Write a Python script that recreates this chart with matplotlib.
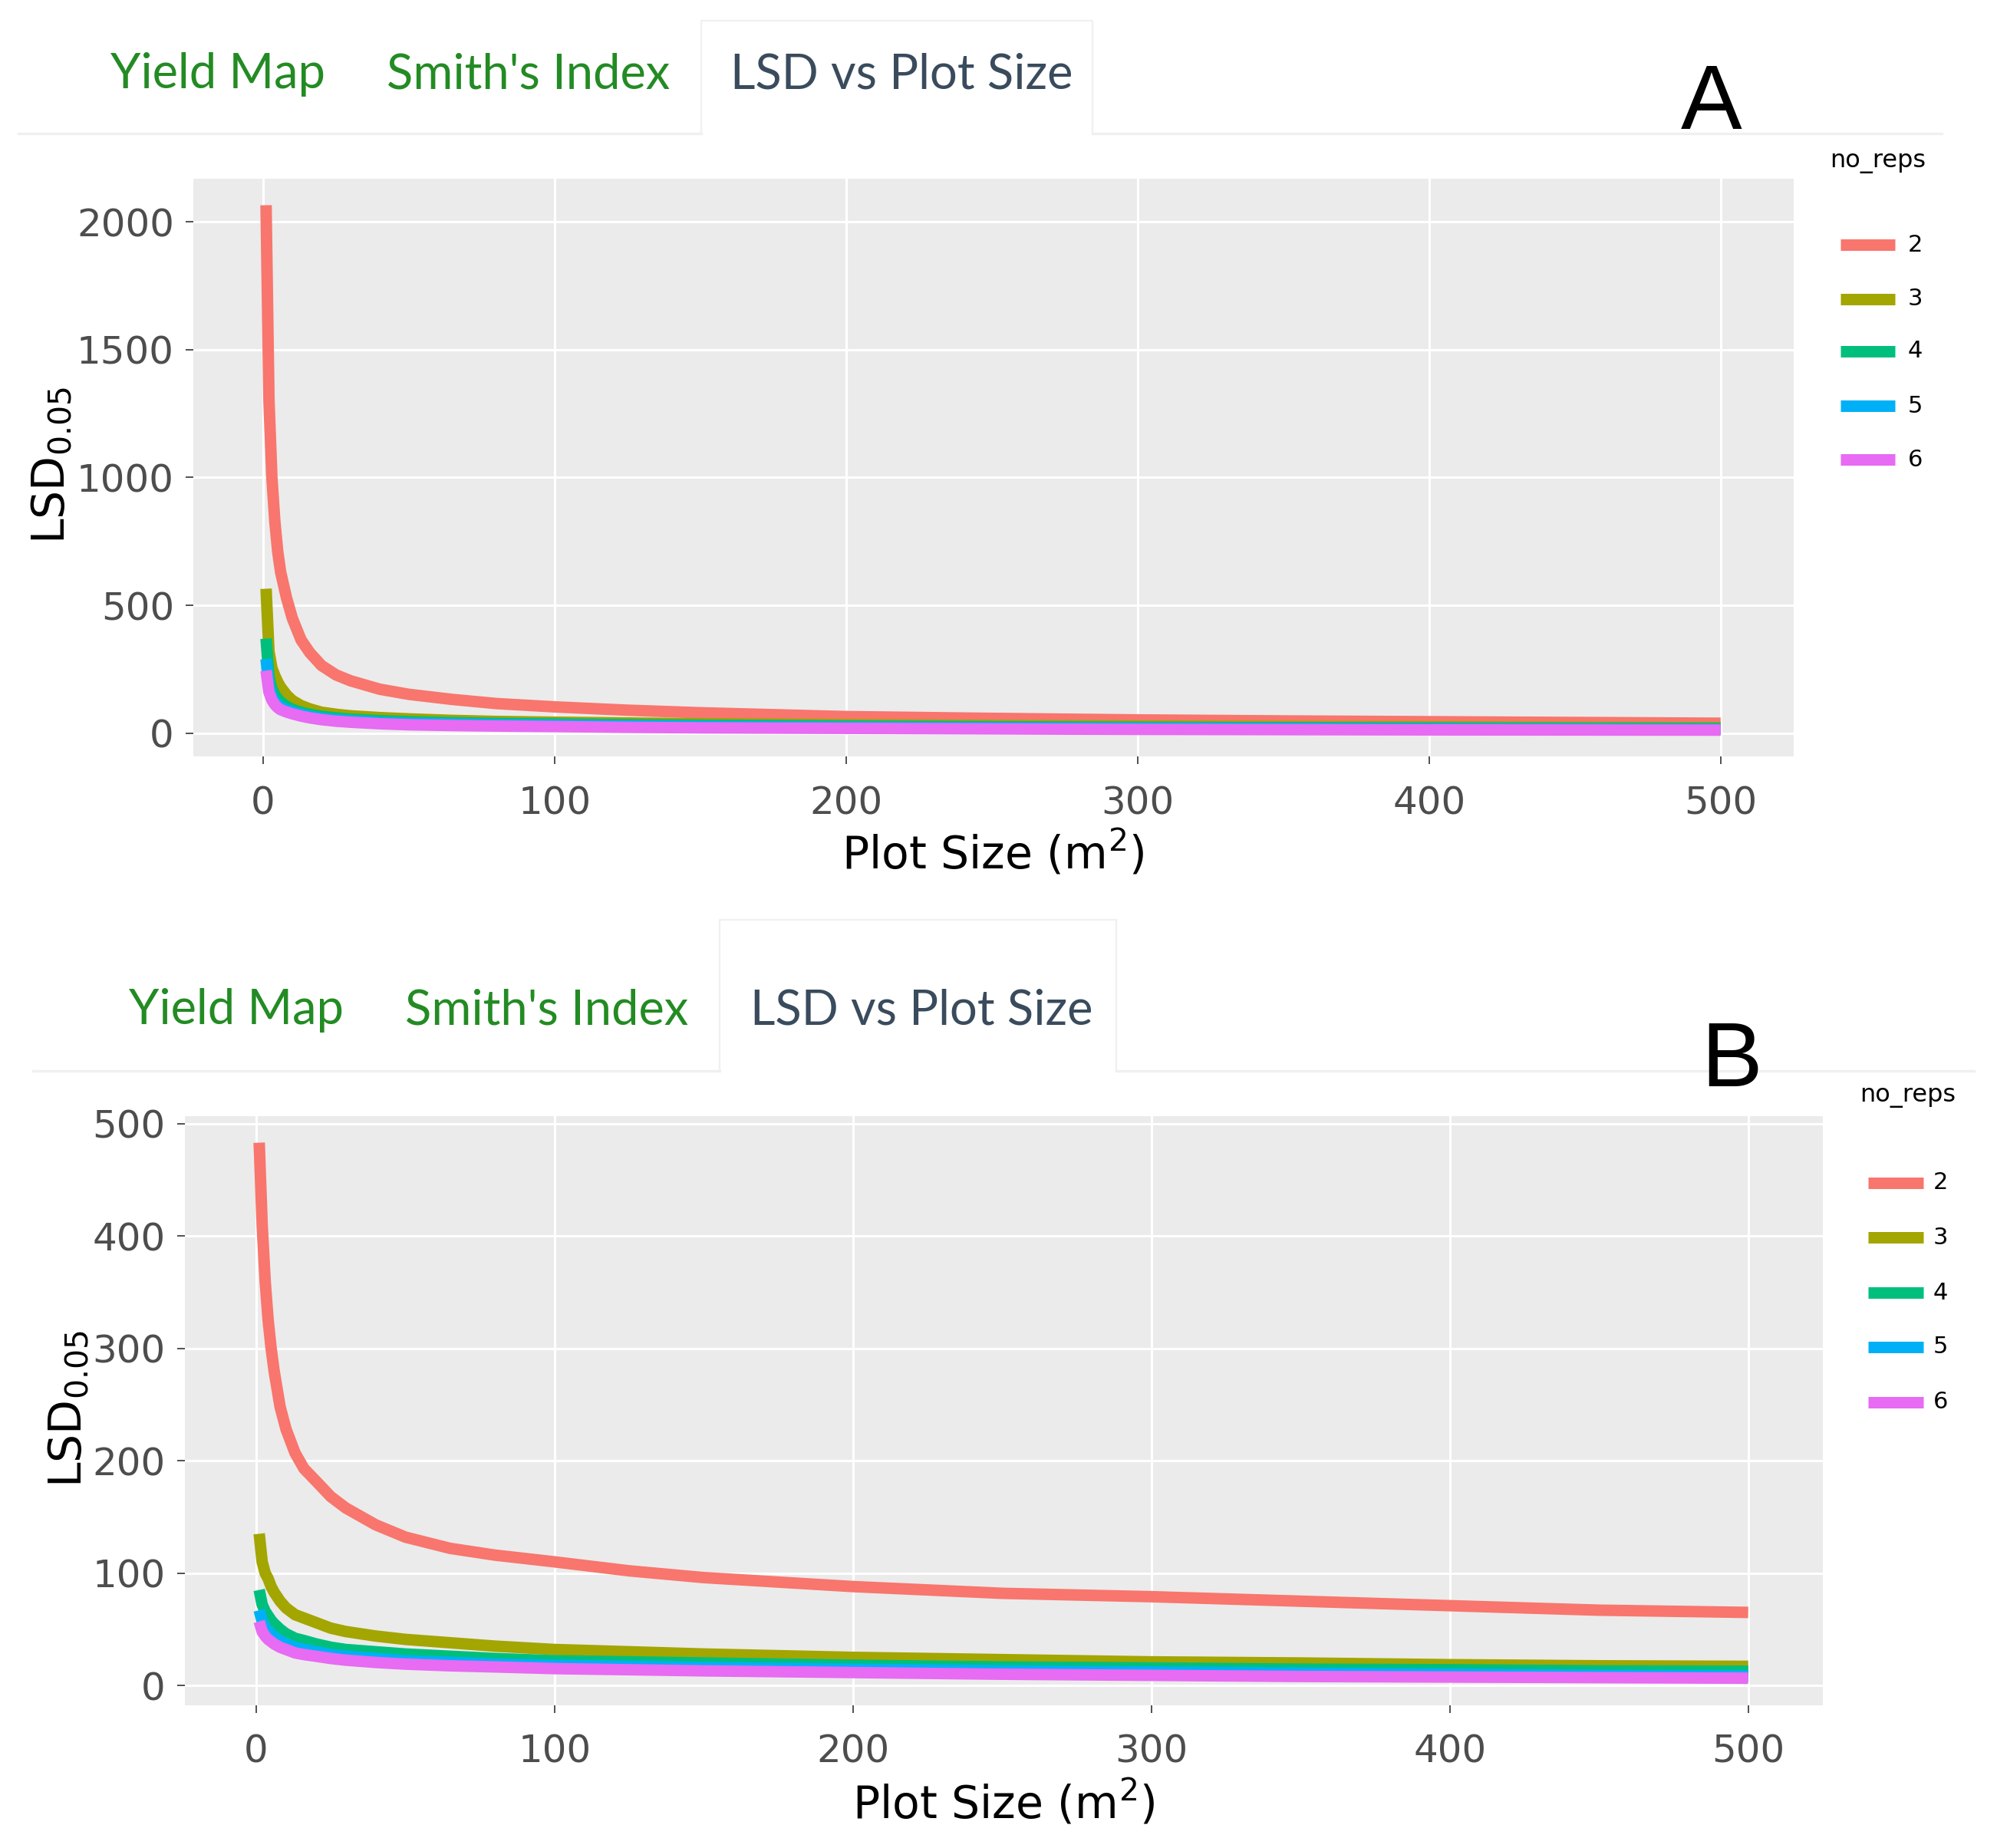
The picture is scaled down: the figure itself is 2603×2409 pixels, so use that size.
import matplotlib
matplotlib.use("Agg")
import matplotlib.pyplot as plt
from matplotlib.lines import Line2D

# ---------------- data ----------------
plot_size = [1, 2, 3, 4, 5, 6, 8, 10, 13, 16, 20, 25, 30, 40, 50, 65, 80,
             100, 125, 150, 200, 250, 300, 350, 400, 450, 500]
reps = ["2", "3", "4", "5", "6"]

# Panel A
a_r2 = [2065, 1300, 1000, 830, 710, 630, 530, 450, 365, 315, 265, 228, 205, 172, 152, 132, 116,
        103, 90, 80, 65, 58, 52, 48, 45, 42, 39]
a_r3 = [565, 320, 255, 225, 200, 180, 150, 128, 108, 95, 82, 74, 68, 61, 56, 50, 46,
        43, 40, 37, 33, 30, 28, 26, 25, 23, 22]
a_r4 = [370, 220, 175, 150, 135, 122, 105, 93, 82, 74, 66, 60, 55, 49, 45, 41, 38,
        36, 33, 31, 28, 25, 23, 21.5, 20, 19, 18]
a_r5 = [290, 180, 145, 125, 112, 103, 92, 84, 74, 66, 58, 52, 48, 42, 38, 35, 33,
        31, 28, 26, 23, 21, 19, 18, 17, 16, 15]
a_r6 = [245, 160, 130, 112, 100, 92, 83, 76, 67, 60, 53, 47, 43, 37, 33, 30, 28,
        26, 23, 21, 19, 17, 15, 14, 13, 12.5, 12]

# Panel B
b_r2 = [483, 410, 360, 325, 300, 280, 248, 228, 207, 193, 182, 168, 158, 143, 132, 122, 116,
        110, 102, 96, 88, 82, 79, 75, 71, 67, 65]
b_r3 = [135, 110, 100, 95, 88, 83, 75, 69, 63, 60, 56, 51, 48, 44, 41, 38, 35,
        32, 30, 28, 25, 23, 21, 20, 18.5, 17.5, 17]
b_r4 = [85, 72, 66, 62, 58, 55, 50, 46, 42, 40, 37, 34, 32, 30, 28, 26, 24,
        22, 21, 20, 18, 16.5, 15.5, 14.5, 14, 13, 12.7]
b_r5 = [67, 57, 52, 48, 46, 43, 40, 37, 34, 32, 30, 27.5, 26, 24, 22, 20.5, 19,
        18, 17, 16, 14.5, 13, 12, 11, 10, 9, 8.5]
b_r6 = [57, 48, 44, 41, 39, 37, 34, 32, 29, 27.5, 26, 24, 22.5, 20.5, 19, 17.5, 16.5,
        15, 14, 13, 11.5, 10, 9, 8, 7.5, 7, 6.5]

x_ticks = [0, 100, 200, 300, 400, 500]
y_ticks_a = [0, 500, 1000, 1500, 2000]
y_ticks_b = [0, 100, 200, 300, 400, 500]
tab_labels = ["Yield Map", "Smith's Index", "LSD vs Plot Size"]
panel_letters = ["A", "B"]
legend_title = "no_reps"

colors = ["#F8766D", "#A3A500", "#00BF7D", "#00B0F6", "#E76BF3"]

# ---------------- layout helpers ----------------
W, H = 2603, 2409
DPI = 100
fig = plt.figure(figsize=(W / DPI, H / DPI), dpi=DPI, facecolor="white")


def fx(x):
    return x / W


def fy(y):
    return 1 - y / H


def px_axes(left, top, right, bottom):
    return [fx(left), fy(bottom), (right - left) / W, (bottom - top) / H]


LINE_W = 15 * 72 / DPI
GRID_W = 3 * 72 / DPI
TAB_GREEN = "#238B23"
TAB_ACTIVE = "#394B5C"
TAB_BORDER = "#F0F0F0"


def draw_tabs(left_xs, baseline, box, line_y, line_extent):
    for lab, x0, col in zip(tab_labels, left_xs, [TAB_GREEN, TAB_GREEN, TAB_ACTIVE]):
        fig.text(fx(x0), fy(baseline), lab, fontsize=45.5, family="Lato",
                 color=col, ha="left", va="baseline")
    bl, bt, br = box
    fig.add_artist(Line2D([fx(bl), fx(bl), fx(br), fx(br)],
                          [fy(line_y), fy(bt), fy(bt), fy(line_y)],
                          transform=fig.transFigure, color=TAB_BORDER, lw=1.6))
    fig.add_artist(Line2D([fx(line_extent[0]), fx(bl)], [fy(line_y), fy(line_y)],
                          transform=fig.transFigure, color=TAB_BORDER, lw=2.4))
    fig.add_artist(Line2D([fx(br), fx(line_extent[1])], [fy(line_y), fy(line_y)],
                          transform=fig.transFigure, color=TAB_BORDER, lw=2.4))


def draw_legend(title_xy, key_x0, key_x1, label_x, ys):
    fig.text(fx(title_xy[0]), fy(title_xy[1]), legend_title, fontsize=23,
             color="black", ha="left", va="center")
    for col, r, y in zip(colors, reps, ys):
        fig.add_artist(Line2D([fx(key_x0), fx(key_x1)], [fy(y), fy(y)],
                              transform=fig.transFigure, color=col, lw=LINE_W,
                              solid_capstyle="butt"))
        fig.text(fx(label_x), fy(y), r, fontsize=22, color="black",
                 ha="left", va="center")


def style_axes(ax, yticks):
    ax.set_facecolor("#EBEBEB")
    for s in ax.spines.values():
        s.set_visible(False)
    ax.set_axisbelow(True)
    ax.grid(True, color="white", linewidth=GRID_W)
    ax.set_xticks(x_ticks)
    ax.set_yticks(yticks)
    ax.tick_params(axis="both", labelsize=36, labelcolor="#4D4D4D",
                   color="#333333", length=7, width=1.2)
    ax.tick_params(axis="y", pad=11)
    ax.tick_params(axis="x", pad=20)
    ax.margins(x=0.05, y=0.05)


def panel(ax, series, yticks, ylab_xy, xlab_y):
    for vals, col, r in zip(series, colors, reps):
        ax.plot(plot_size, vals, color=col, lw=LINE_W,
                solid_capstyle="butt", solid_joinstyle="round", label=r)
    style_axes(ax, yticks)
    ax.set_xlabel("Plot Size (m$^2$)", fontsize=42, color="black", va="center")
    ax.xaxis.set_label_coords(0.5, xlab_y)
    ax.set_ylabel("LSD$_{0.05}$", fontsize=42, color="black", va="center")
    ax.yaxis.set_label_coords(*ylab_xy)


# ---------------- panel A ----------------
draw_tabs([143.5, 504, 952], 115, (914, 27, 1424), 174, (24, 2531))
fig.text(fx(2231), fy(168), panel_letters[0], fontsize=86, family="Liberation Sans",
         color="black", ha="center", va="baseline")
axA = fig.add_axes(px_axes(252, 233.3, 2337.5, 986))
panel(axA, [a_r2, a_r3, a_r4, a_r5, a_r6], y_ticks_a, (-0.0887, 0.5035), -0.1674)
draw_legend((2385, 211), 2399, 2470, 2487, [319, 390, 458, 529, 599])

# ---------------- panel B ----------------
draw_tabs([167.5, 528, 978], 1335, (938, 1199, 1455), 1396, (43, 2573))
fig.text(fx(2257), fy(1416), panel_letters[1], fontsize=86, family="Liberation Sans",
         color="black", ha="center", va="baseline")
axB = fig.add_axes(px_axes(240.8, 1454.7, 2375.7, 2222.5))
panel(axB, [b_r2, b_r3, b_r4, b_r5, b_r6], y_ticks_b, (-0.0711, 0.503), -0.167)
draw_legend((2424, 1429), 2435, 2507, 2520, [1542, 1613, 1685, 1756, 1828])

fig.savefig("out.png", dpi=DPI, facecolor="white")
